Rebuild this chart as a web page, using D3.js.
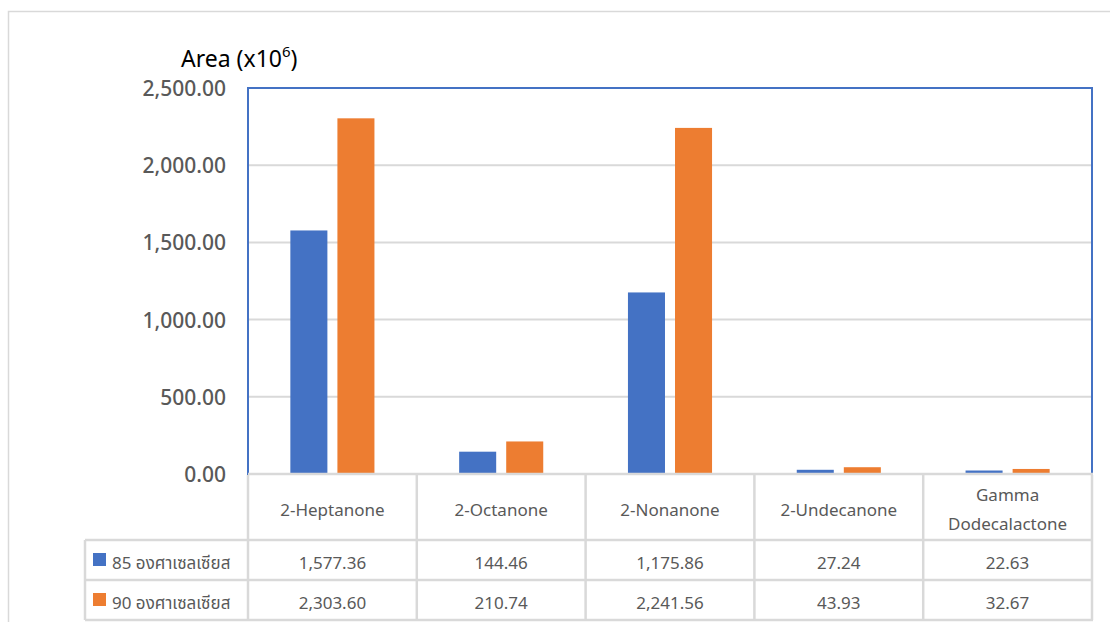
<!DOCTYPE html>
<html>
<head>
<meta charset="utf-8">
<script src="https://cdn.jsdelivr.net/npm/d3@7"></script>
<style>
  html, body { margin: 0; padding: 0; background: #fff; }
  svg { display: block; }
  text { font-family: "Noto Sans", "Open Sans", "Noto Sans Thai", Tahoma, sans-serif; }
</style>
</head>
<body>
<svg id="chart" width="1110" height="622"></svg>
<script>
// Compounds measured and peak areas (x10^6) at the two temperatures
const categories = ["2-Heptanone", "2-Octanone", "2-Nonanone", "2-Undecanone", "Gamma Dodecalactone"];
const categoryLines = [["2-Heptanone"], ["2-Octanone"], ["2-Nonanone"], ["2-Undecanone"], ["Gamma", "Dodecalactone"]];
const seriesNames = ["85 องศาเซลเซียส", "90 องศาเซลเซียส"];
const values85 = [1577.36, 144.46, 1175.86, 27.24, 22.63];
const values90 = [2303.60, 210.74, 2241.56, 43.93, 32.67];
const yTicks = [0, 500, 1000, 1500, 2000, 2500];
const seriesColors = ["#4472C4", "#ED7D31"];

const series = [values85, values90];
const svg = d3.select("#chart");

const plot = { left: 248, right: 1092, top: 88, bottom: 474 };
const tableRows = [474, 540, 580, 620];
const legendLeft = 85;
const gridColor = "#d9d9d9";
const textColor = "#595959";

// outer chart frame
svg.append("rect")
  .attr("x", 8.5).attr("y", 11.5)
  .attr("width", 1120).attr("height", 640)
  .attr("fill", "none").attr("stroke", gridColor).attr("stroke-width", 1.5);

const y = d3.scaleLinear().domain([0, 2500]).range([plot.bottom, plot.top]);
const x = d3.scaleBand().domain(categories).range([plot.left, plot.right]).padding(0);
const xs = d3.scaleBand().domain(d3.range(series.length))
  .range([0, x.bandwidth()]).paddingInner(0.213).paddingOuter(0.9);

// horizontal gridlines
svg.append("g").selectAll("line")
  .data(yTicks.filter(t => t > 0 && t < 2500))
  .join("line")
  .attr("x1", plot.left).attr("x2", plot.right)
  .attr("y1", d => y(d)).attr("y2", d => y(d))
  .attr("stroke", gridColor).attr("stroke-width", 2);

// y axis tick labels
const yAxis = d3.axisLeft(y).tickValues(yTicks).tickSize(0).tickPadding(0)
  .tickFormat(d3.format(",.2f"));
const yg = svg.append("g").attr("transform", `translate(226,0)`).call(yAxis);
yg.select(".domain").remove();
yg.selectAll("text")
  .attr("fill", textColor)
  .attr("font-size", 21)
  .attr("font-weight", 500)
  .attr("dy", "0.36em");

// bars
const groups = svg.append("g").selectAll("g")
  .data(series)
  .join("g")
  .attr("fill", (d, i) => seriesColors[i]);
groups.each(function(vals, si) {
  d3.select(this).selectAll("rect")
    .data(vals)
    .join("rect")
    .attr("x", (d, ci) => x(categories[ci]) + xs(si))
    .attr("width", xs.bandwidth())
    .attr("y", d => y(d))
    .attr("height", d => y(0) - y(d));
});

// plot area border
svg.append("rect")
  .attr("x", plot.left).attr("y", plot.top)
  .attr("width", plot.right - plot.left).attr("height", plot.bottom - plot.top)
  .attr("fill", "none").attr("stroke", "#4472C4").attr("stroke-width", 2);

// data table grid
const tg = svg.append("g").attr("stroke", gridColor).attr("stroke-width", 2.5);
tableRows.forEach((ry, i) => {
  tg.append("line")
    .attr("x1", i === 0 ? plot.left : legendLeft).attr("x2", plot.right + 1)
    .attr("y1", ry).attr("y2", ry);
});
const colEdges = categories.map(c => x(c)).concat([plot.right]);
colEdges.forEach((cx, i) => {
  tg.append("line")
    .attr("x1", cx).attr("x2", cx)
    .attr("y1", i === 0 || i === colEdges.length - 1 ? tableRows[0] + 1 : tableRows[0])
    .attr("y2", tableRows[3]);
});
tg.append("line")
  .attr("x1", legendLeft).attr("x2", legendLeft)
  .attr("y1", tableRows[1]).attr("y2", tableRows[3]);

// category headers
const hdr = svg.append("g").attr("fill", textColor).attr("font-size", 17).attr("text-anchor", "middle");
categoryLines.forEach((lines, ci) => {
  const cx = x(categories[ci]) + x.bandwidth() / 2;
  const midY = (tableRows[0] + tableRows[1]) / 2;
  lines.forEach((ln, li) => {
    hdr.append("text")
      .attr("x", cx)
      .attr("y", midY + (li - (lines.length - 1) / 2) * 29)
      .attr("dy", "0.5em")
      .text(ln);
  });
});

// series rows: legend key, name and values
const fmt = d3.format(",.2f");
series.forEach((vals, si) => {
  const rowMid = (tableRows[si + 1] + tableRows[si + 2]) / 2;
  svg.append("rect")
    .attr("x", 93).attr("y", rowMid - 7)
    .attr("width", 13).attr("height", 13)
    .attr("fill", seriesColors[si]);
  svg.append("text")
    .attr("x", 112).attr("y", rowMid).attr("dy", "0.5em")
    .attr("fill", textColor).attr("font-size", 17)
    .text(seriesNames[si]);
  svg.append("g").selectAll("text")
    .data(vals)
    .join("text")
    .attr("x", (d, ci) => x(categories[ci]) + x.bandwidth() / 2)
    .attr("y", rowMid).attr("dy", "0.5em")
    .attr("text-anchor", "middle")
    .attr("fill", textColor).attr("font-size", 17)
    .text(d => fmt(d));
});

// axis title
const title = svg.append("text")
  .attr("x", 181).attr("y", 67)
  .attr("fill", "#000").attr("font-size", 23);
title.append("tspan").text("Area (x10");
title.append("tspan").attr("font-size", 15).attr("dy", -10).text("6");
title.append("tspan").attr("dy", 10).text(")");
</script>
</body>
</html>
